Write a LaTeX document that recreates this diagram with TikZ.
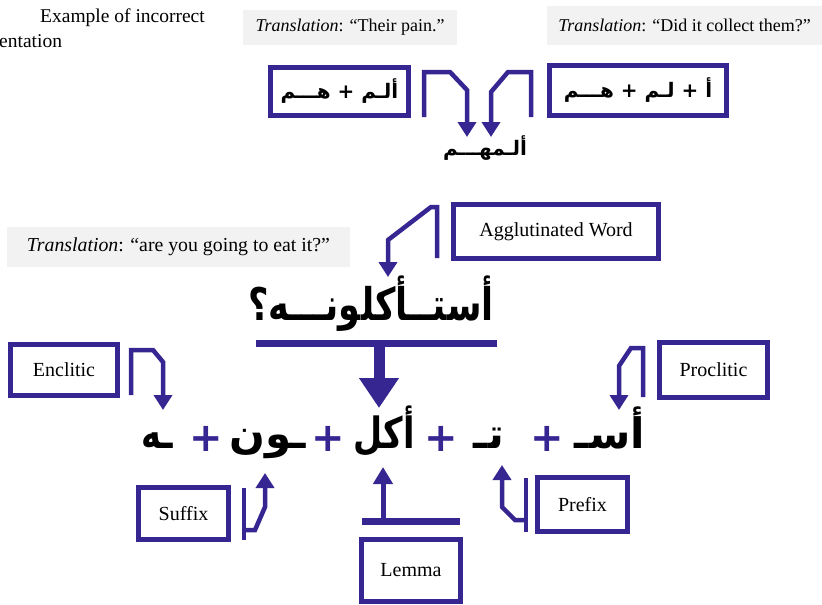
\documentclass[tikz,border=0pt]{standalone}
\usepackage{fontspec}
\setmainfont{Liberation Serif}
\newfontfamily\arabicfont[Script=Arabic]{DejaVu Sans}
\newfontfamily\arabicnarrow[Script=Arabic,FakeStretch=0.78]{DejaVu Sans}
\TeXXeTstate=1
\usetikzlibrary{arrows.meta}
\definecolor{ink}{RGB}{54,38,146}
\definecolor{panel}{RGB}{242,242,242}
\tikzset{
  box/.style={draw=ink, line width=5pt, fill=white, inner sep=0pt,
    font=\fontsize{20}{22}\selectfont},
  note/.style={fill=panel, inner sep=0pt, font=\fontsize{18}{20}\selectfont},
  conn/.style={draw=ink, line width=4.5pt},
  tip/.style={-{Triangle[width=18pt,length=15pt]}},
  bar/.style={draw=ink, line width=7pt},
  arsmall/.style={inner sep=0pt, font=\arabicfont\bfseries\fontsize{20}{22}\selectfont},
  arbig/.style={inner sep=0pt, font=\arabicnarrow\bfseries\fontsize{45}{48}\selectfont},
  armorph/.style={inner sep=0pt, font=\arabicfont\bfseries\fontsize{42}{46}\selectfont},
  armorphn/.style={inner sep=0pt, font=\arabicnarrow\bfseries\fontsize{43}{46}\selectfont},
  plus/.style={inner sep=0pt, text=ink, font=\arabicfont\bfseries\fontsize{40}{44}\selectfont},
}
\newcommand{\RL}[1]{\beginR #1\endR}
\begin{document}
\begin{tikzpicture}[x=1pt,y=-1pt]
\useasboundingbox (0,0) rectangle (822,605);

% caption fragment
\node[anchor=base west, inner sep=0pt, font=\fontsize{19.5}{22}\selectfont] (cap1) at (40,22) {Example of incorrect};
\node[anchor=base west, inner sep=0pt, font=\fontsize{19.5}{22}\selectfont] (cap2) at (-1,47) {entation};

% translations
\node[note, minimum width=214pt, minimum height=35pt] (tr1) at (350,27.5) {\textit{Translation}: “Their pain.”};
\node[note, minimum width=275pt, minimum height=39pt] (tr2) at (684.5,25.5) {\textit{Translation}: “Did it collect them?”};
\node[note, minimum width=343pt, minimum height=40pt, font=\fontsize{19.8}{22}\selectfont] (tr3) at (178.5,247) {\textit{Translation}: “are you going to eat it?”};

% top example: two segmentations of the same surface form
\node[box, minimum width=138pt, minimum height=48pt, font=\arabicfont\bfseries\fontsize{20}{22}\selectfont] (lbox) at (339.5,91.5) {\RL{ألـم + هـــم}};
\node[box, minimum width=177pt, minimum height=50pt, font=\arabicfont\bfseries\fontsize{20}{22}\selectfont] (rbox) at (638,90.5) {\RL{أ + لـم + هـــم}};
\node[arsmall] (joined) at (485,148) {\RL{ألـمهـــم}};

\coordinate (la1) at (424,117);
\coordinate (la2) at (424,72);
\coordinate (la3) at (450,72);
\coordinate (la4) at (467,90);
\draw[conn, tip] (la1) -- (la2) -- (la3) -- (la4) -- (la4 |- 0,137);
\coordinate (ra1) at (531,117);
\coordinate (ra2) at (531,72);
\coordinate (ra3) at (508,72);
\coordinate (ra4) at (491,92);
\draw[conn, tip] (ra1) -- (ra2) -- (ra3) -- (ra4) -- (ra4 |- 0,137);

% agglutinated word
\node[box, minimum width=205pt, minimum height=54pt] (agg) at (556,231.5) {Agglutinated Word};
\node[arbig, anchor=base] (word) at (371,320) {\RL{أستــأكلونـــه؟}};
\coordinate (ag1) at (437,258);
\coordinate (ag2) at (437,207);
\coordinate (ag3) at (431,207);
\coordinate (ag4) at (388,240);
\draw[conn, tip] (ag1) -- (ag2) -- (ag3) -- (ag4) -- (ag4 |- 0,277);

\coordinate (barL) at (256,343);
\coordinate (barR) at (497,343);
\coordinate (barM) at (379,343);
\draw[bar] (barL) -- (barR);

% morphemes
\node[armorphn, anchor=base] (m1) at (157,448) {\RL{ـه}};
\node[plus, anchor=base] (p1) at (206,451) {+};
\node[armorph, anchor=base] (m2) at (268,448) {\RL{ـون}};
\node[plus, anchor=base] (p2) at (328,451) {+};
\node[armorphn, anchor=base] (m3) at (384,448) {\RL{أكل}};
\node[plus, anchor=base] (p3) at (441,451) {+};
\node[armorph, anchor=base] (m4) at (489,448) {\RL{تـ}};
\node[plus, anchor=base] (p4) at (547,451) {+};
\node[armorph, anchor=base] (m5) at (610,448) {\RL{أسـ}};

\draw[ink, line width=11pt, -{Triangle[width=38pt,length=30pt]}] (barM) -- (barM |- 0,408);

% enclitic
\node[box, minimum width=107pt, minimum height=51pt] (encl) at (64,370) {Enclitic};
\coordinate (en1) at (131,395);
\coordinate (en2) at (131,350);
\coordinate (en3) at (153,350);
\coordinate (en4) at (163,362);
\draw[conn, tip] (en1) -- (en2) -- (en3) -- (en4) -- (en4 |- 0,410);

% proclitic
\node[box, minimum width=108pt, minimum height=55pt] (procl) at (713.5,370) {Proclitic};
\coordinate (pr1) at (643,397);
\coordinate (pr2) at (643,348);
\coordinate (pr3) at (631,348);
\coordinate (pr4) at (619,366);
\draw[conn, tip] (pr1) -- (pr2) -- (pr3) -- (pr4) -- (pr4 |- 0,410);

% suffix
\node[box, minimum width=90pt, minimum height=52pt] (suf) at (183.5,513.5) {Suffix};
\coordinate (sf1) at (244,488);
\coordinate (sf2) at (244,540);
\coordinate (sf3) at (244,530);
\coordinate (sf4) at (255,530);
\coordinate (sf5) at (265,507);
\draw[conn] (sf1) -- (sf2);
\draw[conn, tip] (sf3) -- (sf4) -- (sf5) -- (sf5 |- 0,473);

% lemma
\node[box, minimum width=99pt, minimum height=62pt] (lem) at (411,570.5) {Lemma};
\coordinate (lbL) at (362,521);
\coordinate (lbR) at (460,521);
\coordinate (lbM) at (383,521);
\draw[bar] (lbL) -- (lbR);
\draw[conn, line width=5pt, -{Triangle[width=19pt,length=17pt]}] (lbM) -- (lbM |- 0,467);

% prefix
\node[box, minimum width=90pt, minimum height=54pt] (pre) at (582.5,504.5) {Prefix};
\coordinate (pf1) at (526,478);
\coordinate (pf2) at (526,532);
\coordinate (pf3) at (526,520);
\coordinate (pf4) at (515,520);
\coordinate (pf5) at (502,507);
\draw[conn] (pf1) -- (pf2);
\draw[conn, tip] (pf3) -- (pf4) -- (pf5) -- (pf5 |- 0,465);
\end{tikzpicture}
\end{document}
